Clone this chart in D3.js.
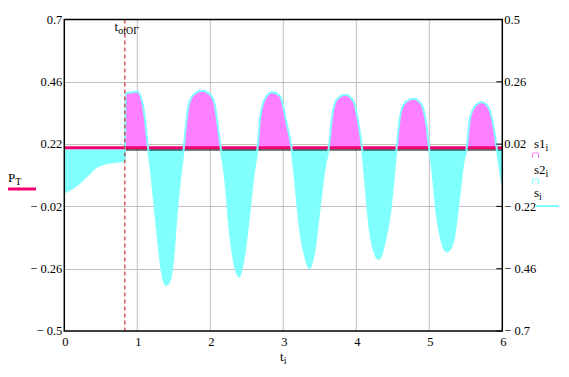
<!DOCTYPE html>
<html>
<head>
<meta charset="utf-8">
<script src="https://cdn.jsdelivr.net/npm/d3@7"></script>
<style>
  body { margin: 0; background: #fff; }
  svg { display: block; }
  svg text { font-family: "Liberation Serif", "DejaVu Serif", serif; fill: #000; }
</style>
</head>
<body>
<svg id="chart" width="569" height="377" font-family="Liberation Serif, DejaVu Serif, serif"></svg>
<script>
// time points (t_i) and response s_i (right axis units)
var tValues = [0, 0.15, 0.3, 0.44, 0.58, 0.72, 0.83, 0.84, 0.92, 1.0, 1.08, 1.14, 1.2, 1.27,
  1.34, 1.395, 1.45, 1.49, 1.54, 1.585, 1.635, 1.66, 1.70, 1.77, 1.885, 2.0, 2.065,
  2.11, 2.145, 2.205, 2.27, 2.34, 2.395, 2.455, 2.525, 2.595, 2.645, 2.685, 2.755,
  2.845, 2.955, 3.045, 3.115, 3.16, 3.23, 3.30, 3.36, 3.435, 3.50, 3.57, 3.62, 3.67,
  3.73, 3.85, 3.96, 4.03, 4.08, 4.12, 4.185, 4.305, 4.395, 4.465, 4.51, 4.55, 4.60,
  4.665, 4.785, 4.895, 4.963, 5.0, 5.03, 5.10, 5.165, 5.245, 5.33, 5.395, 5.465,
  5.51, 5.555, 5.625, 5.715, 5.81, 5.88, 5.925, 6.0];
var sValues = [-0.166, -0.143, -0.105, -0.068, -0.053, -0.048, -0.045, 0.217, 0.219, 0.223,
  0.165, 0.024, -0.117, -0.31, -0.478, -0.523, -0.50, -0.426, -0.246, -0.117, 0,
  0.075, 0.165, 0.21, 0.226, 0.21, 0.165, 0.075, 0, -0.117, -0.323, -0.452, -0.49,
  -0.426, -0.27, -0.092, 0, 0.127, 0.198, 0.22, 0.205, 0.10, 0, -0.117, -0.31,
  -0.413, -0.458, -0.375, -0.22, -0.066, 0, 0.127, 0.191, 0.21, 0.185, 0.10, 0,
  -0.117, -0.31, -0.422, -0.35, -0.24, -0.117, 0, 0.127, 0.178, 0.195, 0.172, 0.088,
  0, -0.053, -0.246, -0.349, -0.394, -0.349, -0.22, -0.053, 0, 0.114, 0.165, 0.181,
  0.16, 0.088, 0, -0.137];

var pT = 0.206;        // P_T level, left axis
var tOtOG = 0.83;      // switching moment

var xTicks = [0, 1, 2, 3, 4, 5, 6];
var leftTicks = [0.7, 0.46, 0.22, -0.02, -0.26, -0.5];
var rightTicks = [0.5, 0.26, 0.02, -0.22, -0.46, -0.7];

var svg = d3.select("#chart");

var x = d3.scaleLinear().domain([0, 6]).range([64.3, 502.3]);
var yL = d3.scaleLinear().domain([-0.5, 0.7]).range([331, 19.5]);
var yR = d3.scaleLinear().domain([-0.7, 0.5]).range([331, 19.5]);

var fmt = function(v) {
  return v < 0 ? "\u2212 " + Math.abs(v) : String(v);
};

var data = tValues.map(function(t, i) { return {t: t, s: sValues[i]}; });

// grid lines
svg.append("g").selectAll("line").data(xTicks.slice(1, -1)).enter()
  .append("line")
  .attr("x1", x).attr("x2", x)
  .attr("y1", yL(0.7)).attr("y2", yL(-0.5))
  .attr("stroke", "#c0c0c0").attr("stroke-width", 1);

svg.append("g").selectAll("line").data(leftTicks.slice(1, -1)).enter()
  .append("line")
  .attr("x1", x(0)).attr("x2", x(6))
  .attr("y1", function(d) { return Math.round(yL(d)) + 0.5; })
  .attr("y2", function(d) { return Math.round(yL(d)) + 0.5; })
  .attr("stroke", "#c0c0c0").attr("stroke-width", 1);

// clip regions above / below s = 0
var y0 = yR(0);
var defs = svg.append("defs");
defs.append("clipPath").attr("id", "above")
  .append("rect").attr("x", x(0)).attr("y", yR(0.5)).attr("width", x(6) - x(0)).attr("height", y0 - yR(0.5));
defs.append("clipPath").attr("id", "below")
  .append("rect").attr("x", x(0)).attr("y", y0).attr("width", x(6) - x(0)).attr("height", yR(-0.7) - y0);

var area = d3.area()
  .x(function(d) { return x(d.t); })
  .y0(y0)
  .y1(function(d) { return yR(d.s); })
  .curve(d3.curveMonotoneX);

svg.append("path").datum(data)
  .attr("clip-path", "url(#above)")
  .attr("d", area)
  .attr("fill", "#ff80ff");

svg.append("path").datum(data)
  .attr("clip-path", "url(#below)")
  .attr("d", area)
  .attr("fill", "#80ffff");

// P_T level
svg.append("line")
  .attr("x1", x(0)).attr("x2", x(6))
  .attr("y1", yL(pT)).attr("y2", yL(pT))
  .attr("stroke", "#ee0070").attr("stroke-width", 3);

// zero line after switching
svg.append("line")
  .attr("x1", x(tOtOG)).attr("x2", x(6))
  .attr("y1", y0 + 0.7).attr("y2", y0 + 0.7)
  .attr("stroke", "#000").attr("stroke-width", 1);

// s line
var line = d3.line()
  .x(function(d) { return x(d.t); })
  .y(function(d) { return yR(d.s); })
  .curve(d3.curveMonotoneX);

svg.append("path").datum(data)
  .attr("d", line)
  .attr("fill", "none")
  .attr("stroke", "#80ffff")
  .attr("stroke-width", 2);

// switching marker
svg.append("line")
  .attr("x1", x(tOtOG)).attr("x2", x(tOtOG))
  .attr("y1", yL(0.7)).attr("y2", yL(-0.5))
  .attr("stroke", "#cc0000").attr("stroke-width", 1)
  .attr("stroke-dasharray", "4,3");

var tl = svg.append("text").attr("x", 114.5).attr("y", 31).attr("font-size", 13);
tl.append("tspan").text("t");
tl.append("tspan").attr("dy", 3).attr("font-size", 10).text("otOГ");

// frame
svg.append("rect")
  .attr("x", x(0)).attr("y", yL(0.7))
  .attr("width", x(6) - x(0)).attr("height", yL(-0.5) - yL(0.7))
  .attr("fill", "none").attr("stroke", "#000").attr("stroke-width", 1.5);

// right axis inner ticks
svg.append("g").selectAll("line").data(rightTicks).enter()
  .append("line")
  .attr("x1", x(6) - 6).attr("x2", x(6))
  .attr("y1", yR).attr("y2", yR)
  .attr("stroke", "#000").attr("stroke-width", 1);

// tick labels
svg.append("g").selectAll("text").data(leftTicks).enter()
  .append("text")
  .attr("x", x(0) - 2).attr("y", yL)
  .attr("dy", "0.35em").attr("text-anchor", "end").attr("font-size", 12.5)
  .text(fmt);

svg.append("g").selectAll("text").data(rightTicks).enter()
  .append("text")
  .attr("x", x(6) + 2).attr("y", yR)
  .attr("dy", "0.35em").attr("font-size", 12.5)
  .text(fmt);

svg.append("g").selectAll("text").data(xTicks).enter()
  .append("text")
  .attr("x", function(d) { return x(d) + 1; }).attr("y", yL(-0.5) + 15)
  .attr("text-anchor", "middle").attr("font-size", 12.5)
  .text(function(d) { return d; });

// axis titles
var xt = svg.append("text").attr("x", 280).attr("y", 361).attr("font-size", 13);
xt.append("tspan").text("t");
xt.append("tspan").attr("dy", 3).attr("font-size", 10).text("i");

var pl = svg.append("text").attr("x", 8).attr("y", 182).attr("font-size", 13);
pl.append("tspan").text("P");
pl.append("tspan").attr("dy", 3).attr("font-size", 10).text("T");
svg.append("line").attr("x1", 8).attr("x2", 36).attr("y1", 189).attr("y2", 189)
  .attr("stroke", "#ee0070").attr("stroke-width", 3);

// right legend
var legend = [
  {name: "s1", y: 148, color: "#ff80ff", kind: "bar"},
  {name: "s2", y: 174, color: "#80ffff", kind: "bar"},
  {name: "s", y: 197, color: "#80ffff", kind: "line"}
];
legend.forEach(function(l) {
  var g = svg.append("text").attr("x", 534).attr("y", l.y).attr("font-size", 13);
  g.append("tspan").text(l.name);
  g.append("tspan").attr("dy", 3).attr("font-size", 10).text("i");
  if(l.kind == "bar") {
    svg.append("path")
      .attr("d", "M532.5," + (l.y + 10) + " v-5 h6 v5")
      .attr("fill", "none").attr("stroke", l.color).attr("stroke-width", 1);
  } else {
    svg.append("line").attr("x1", 535).attr("x2", 559).attr("y1", l.y + 9).attr("y2", l.y + 9)
      .attr("stroke", l.color).attr("stroke-width", 2);
  }
});
</script>
</body>
</html>
